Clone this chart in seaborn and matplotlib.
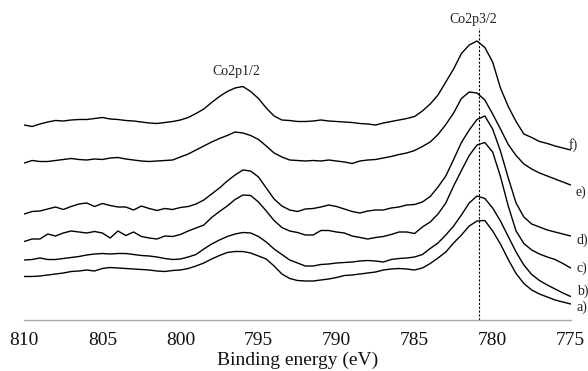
#!/usr/bin/env python3
# XPS Co2p spectra (samples a-f), stacked with vertical offsets.

import matplotlib

matplotlib.use("Agg")
import matplotlib.pyplot as plt  # noqa: E402
import numpy as np  # noqa: E402
import pandas as pd  # noqa: E402
import seaborn as sns  # noqa: E402

OUT_PNG = "out.png"
DPI = 100

# --- Data (intensity in a.u., already offset per sample) ---------------------
# binding energy grid, 810 -> 775 eV in 0.5 eV steps (71 points)
ENERGY = np.arange(810.0, 774.75, -0.5)

SAMPLE_A = [43.5, 43.5, 44, 45, 46, 47, 48.5, 49, 50, 49,
            51.5, 52.5, 52, 51.5, 51, 50.5, 50, 49, 48.5, 49.5,
            50, 51.5, 54, 57, 61, 64.5, 67.5, 68.5, 68.5, 67,
            64, 61, 54, 46, 41.5, 39.5, 39, 39, 40, 41,
            42.5, 44.5, 45, 46, 47, 48, 50, 51, 51.5, 51,
            50, 52, 56.5, 62, 68, 77, 85, 94, 99, 99.5,
            89, 76, 60.5, 46.5, 36.5, 30, 26, 23, 20, 18,
            16]
SAMPLE_B = [60, 60.5, 62, 60.5, 60.5, 61.5, 62.5, 63.5, 65, 66,
            66.5, 66, 66.5, 66.5, 65.5, 64.5, 64, 63, 61.5, 60.5,
            61, 63, 65.5, 71, 76, 80, 83.5, 86, 87.5, 87,
            83.5, 78, 71, 65.5, 60, 57, 54, 54, 55.5, 56,
            57, 57.5, 58, 59, 59.5, 59, 58, 60.5, 61.5, 62,
            63, 65.5, 71.5, 77, 85, 94, 105, 117, 124, 121.5,
            112, 99, 83.5, 68, 55, 45.5, 39.5, 35, 31, 27,
            23.5]
SAMPLE_C = [78.5, 81, 81, 86, 84, 87, 89, 88, 87, 88.5,
            87, 82, 89, 84.5, 88, 83.5, 82, 81, 84, 83.5,
            85.5, 89, 92, 95, 102.5, 108.5, 114, 120.5, 125, 124.5,
            118, 109, 99.5, 92.5, 89, 87.5, 85, 85, 89.5, 89.5,
            88, 87, 84, 82.5, 81, 82.5, 83.5, 85.5, 88, 88,
            86.5, 93, 98, 106, 117, 134, 149.5, 164.5, 175, 177.5,
            168, 143.5, 114, 89, 76.5, 70, 66, 63, 60.5, 56.5,
            52]
SAMPLE_D = [106, 108.5, 109, 111, 113, 110.5, 113.5, 116, 117, 113.5,
            116.5, 114.5, 113, 113, 110, 114, 111.5, 109.5, 111.5, 110.5,
            112.5, 113.5, 116, 120, 126, 132, 139, 145, 150, 149,
            143, 132, 121, 114, 110, 108.5, 111, 111.5, 113, 115,
            113.5, 111, 108.5, 107, 109, 110, 110, 112, 113, 115,
            115.5, 118, 123.5, 133, 144, 160.5, 177.5, 190, 200.5, 204,
            191, 169, 142, 117, 103, 96, 93, 90, 88, 86,
            84]
SAMPLE_E = [157, 159.5, 158.5, 158.5, 159.5, 160.5, 161.5, 160.5, 160, 161,
            160.5, 162, 162.5, 161, 160, 159, 158.5, 159, 159.5, 160,
            163, 166, 170, 174, 178, 181.5, 184.5, 188, 187, 184.5,
            180.5, 174, 167, 163, 160, 159.5, 159, 159.5, 159, 160,
            159, 158, 156.5, 159, 160, 160.5, 162, 163.5, 165.5, 167,
            169.5, 173.5, 178, 185.5, 195.5, 207, 221.5, 228, 227, 220,
            206, 191, 175.5, 164.5, 156, 151, 147, 144, 141, 138,
            135]
SAMPLE_F = [195, 193.5, 196, 198, 199.5, 199, 200, 200.5, 200.5, 201.5,
            202.5, 201, 200.5, 199.5, 199, 198, 197, 196.5, 197.5, 198.5,
            200, 202.5, 206.5, 211, 217.5, 223.5, 228.5, 232, 233.5, 228.5,
            221.5, 212, 204, 200, 199.5, 198.5, 198.5, 199, 200, 199,
            198.5, 198, 197.5, 196.5, 196, 195, 197, 198.5, 200, 201.5,
            203.5, 209, 216, 225, 238, 251, 266.5, 275, 279, 272.5,
            258, 232, 213.5, 198.5, 186, 182.5, 178.5, 176.5, 174, 172,
            170]

SAMPLE_NAMES = ["a)", "b)", "c)", "d)", "e)", "f)"]
SAMPLE_SERIES = [SAMPLE_A, SAMPLE_B, SAMPLE_C, SAMPLE_D, SAMPLE_E, SAMPLE_F]

# label anchors at the right edge (energy, intensity)
LABEL_X = [774.6, 774.6, 774.6, 774.65, 774.7, 775.15]
LABEL_Y = [13, 29, 52, 80, 128, 175]

PEAK_NAMES = ["Co2p1/2", "Co2p3/2"]
PEAK_TEXT_X = [796.4, 781.25]
PEAK_TEXT_Y = [248, 300]
CO2P32_LINE = 780.9


def build_frame() -> pd.DataFrame:
    """Long table: one row per (sample, energy)."""
    parts = []
    for name, values in zip(SAMPLE_NAMES, SAMPLE_SERIES):
        parts.append(pd.DataFrame({"Energy": ENERGY, "Intensity": values,
                                   "Sample": name}))
    return pd.concat(parts, ignore_index=True)


def main() -> None:
    df = build_frame()

    sns.set_theme(style="white")
    plt.rcParams["font.family"] = ["Liberation Serif", "DejaVu Serif"]

    fig = plt.figure(figsize=(5.88, 3.71), dpi=DPI)
    ax = fig.add_axes([24.3 / 588, 1 - 319.5 / 371,
                       (570.7 - 24.3) / 588, 319.5 / 371])

    sns.lineplot(data=df, x="Energy", y="Intensity", units="Sample",
                 estimator=None, color="black", linewidth=1.0,
                 sort=False, ax=ax)

    # dashed marker at the Co2p3/2 maximum
    ax.vlines(CO2P32_LINE, 0.5, 292, colors="black", linewidth=0.8,
              linestyles=(0, (2, 1.5)))

    for txt, x, y in zip(PEAK_NAMES, PEAK_TEXT_X, PEAK_TEXT_Y):
        ax.text(x, y, txt, ha="center", va="center", fontsize=10,
                color="#222222")
    for txt, x, y in zip(SAMPLE_NAMES, LABEL_X, LABEL_Y):
        ax.text(x, y, txt, ha="left", va="center", fontsize=10,
                color="#222222", clip_on=False)

    ax.set_xlim(810, 775)
    ax.set_ylim(0.5, 320)
    ax.set_xticks([810, 805, 800, 795, 790, 785, 780, 775])
    ax.set_yticks([])
    ax.set_xlabel("Binding energy (eV)", fontsize=14, color="#111111",
                  labelpad=2)
    ax.set_ylabel("")

    for side in ("top", "left", "right"):
        ax.spines[side].set_visible(False)
    ax.spines["bottom"].set_color("#aaaaaa")
    ax.spines["bottom"].set_linewidth(1.0)
    ax.tick_params(axis="x", direction="inout", length=8, width=1.0,
                   color="#aaaaaa", labelsize=14, labelcolor="#111111",
                   pad=5)

    fig.savefig(OUT_PNG, dpi=DPI)
    plt.close(fig)


if __name__ == "__main__":
    main()
